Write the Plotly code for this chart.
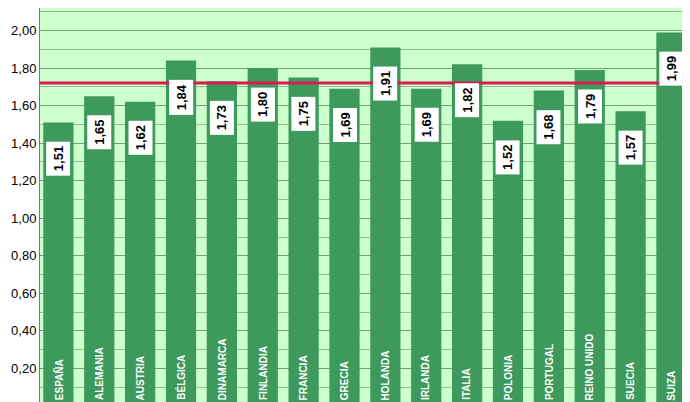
import plotly.graph_objects as go

countries = ["ESPAÑA", "ALEMANIA", "AUSTRIA", "BÉLGICA", "DINAMARCA", "FINLANDIA", "FRANCIA", "GRECIA",
             "HOLANDA", "IRLANDA", "ITALIA", "POLONIA", "PORTUGAL", "REINO UNIDO", "SUECIA", "SUIZA"]
values = [1.51, 1.65, 1.62, 1.84, 1.73, 1.80, 1.75, 1.69, 1.91, 1.69, 1.82, 1.52, 1.68, 1.79, 1.57, 1.99]
labels = ["1,51", "1,65", "1,62", "1,84", "1,73", "1,80", "1,75", "1,69",
          "1,91", "1,69", "1,82", "1,52", "1,68", "1,79", "1,57", "1,99"]
average = 1.72
tick_vals = [0.2, 0.4, 0.6, 0.8, 1.0, 1.2, 1.4, 1.6, 1.8, 2.0]
tick_text = ["0,20", "0,40", "0,60", "0,80", "1,00", "1,20", "1,40", "1,60", "1,80", "2,00"]

bar_color = "#3d9a5c"

fig = go.Figure()
fig.add_trace(go.Bar(x=countries, y=values, marker_color=bar_color,
                     marker_line_width=0, width=0.74))

fig.add_hline(y=average, line_color="#d81b50", line_width=3)

for c, v, lab in zip(countries, values, labels):
    fig.add_annotation(x=c, y=v - 0.1, text="<b>" + lab + "</b>", textangle=-90,
                       showarrow=False, yanchor="top", bgcolor="white",
                       font=dict(family="Liberation Sans", size=13, color="black"),
                       borderpad=4)
    fig.add_annotation(x=c, y=0.02, text="<b>" + c + "</b>", textangle=-90,
                       showarrow=False, yanchor="bottom",
                       font=dict(family="Liberation Sans", size=10, color="white"))

fig.update_layout(
    width=690, height=402,
    margin=dict(l=32, r=2, t=0, b=4),
    plot_bgcolor="#ccffcc", paper_bgcolor="white",
    showlegend=False,
    font=dict(family="Liberation Sans", size=13, color="black"),
    xaxis=dict(showticklabels=False, showgrid=False, showline=True, linecolor="#777",
               range=[-0.45, 15.6]),
    yaxis=dict(range=[0, 2.12], tickvals=tick_vals, ticktext=tick_text,
               showgrid=True, gridcolor="#7a9a7a", gridwidth=1,
               minor=dict(dtick=0.1, showgrid=True, gridcolor="#99b899", gridwidth=1),
               showline=True, linecolor="#777", ticks=""),
)

fig.write_html("out.html")
